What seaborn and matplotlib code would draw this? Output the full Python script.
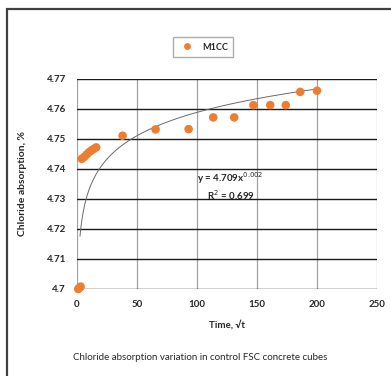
import numpy as np
import matplotlib
matplotlib.use("Agg")
import matplotlib.pyplot as plt
import seaborn as sns
import pandas as pd
from matplotlib.patches import Rectangle

# Data
time_sqrt = [1, 2, 3, 4, 6, 8, 10, 12, 14, 16, 38, 65.5, 93, 113.5, 131, 147, 161, 174, 186, 200]
chloride = [4.7000, 4.7004, 4.7008, 4.7434, 4.7440, 4.7448, 4.7456, 4.7462, 4.7467, 4.7472,
            4.7511, 4.7532, 4.7533, 4.7572, 4.7572, 4.7613, 4.7613, 4.7613, 4.7657, 4.7661]
series_name = "M1CC"
x_ticks = [0, 50, 100, 150, 200, 250]
y_ticks = [4.70, 4.71, 4.72, 4.73, 4.74, 4.75, 4.76, 4.77]
y_tick_labels = ["4.7", "4.71", "4.72", "4.73", "4.74", "4.75", "4.76", "4.77"]
eq_line1 = "y = 4.709x$^{0.002}$"
eq_line2 = "R$^2$ = 0.699"
trend_a = 4.7074
trend_b = 0.002362
trend_start = 2.5

df = pd.DataFrame({"t": time_sqrt, "c": chloride, "s": series_name})

sns.set_theme(style="white")
plt.rcParams["font.family"] = ["Lato", "DejaVu Sans"]

fig = plt.figure(figsize=(3.91, 3.76), dpi=100)
ax = fig.add_axes([77/391, 1-289/376, 300/391, 210/376])
ax.set_facecolor("white")

# outer frame
fig.patches.append(Rectangle((7/391, -0.2), 1.2, 1-9/376+0.2, transform=fig.transFigure,
                             fill=False, edgecolor="#404040", linewidth=1.6, zorder=0))

# gridlines
for xv in x_ticks:
    ax.axvline(xv, color="#a0a0a0", lw=0.9, zorder=1)
for yv in y_ticks:
    ax.axhline(yv, color="#1a1a1a", lw=1.0, zorder=1)

# trendline
xt = np.linspace(trend_start, max(time_sqrt), 300)
ax.plot(xt, trend_a * xt ** trend_b, color="#6a6a6a", lw=0.7, zorder=2)

sns.scatterplot(data=df, x="t", y="c", hue="s", palette=["#ED7D31"], s=38,
                edgecolor="none", ax=ax, zorder=3, clip_on=False)

ax.set_xlim(0, 250)
ax.set_ylim(4.70, 4.77)
ax.set_xticks(x_ticks)
ax.set_xticklabels([str(v) for v in x_ticks], fontsize=7, fontweight="bold")
ax.set_yticks(y_ticks)
ax.set_yticklabels(y_tick_labels, fontsize=7, fontweight="bold")
ax.tick_params(length=0, pad=8)
for sp in ax.spines.values():
    sp.set_visible(False)
ax.set_xlabel("Time, √t", fontsize=7, fontweight="bold", labelpad=8)
ax.set_ylabel("Chloride absorption, %", fontsize=7.5, fontweight="bold", labelpad=14)

ax.text(197/391, 1-178/376, eq_line1, transform=fig.transFigure, fontsize=7, fontweight="bold",
        ha="left", va="center", zorder=4)
ax.text(207/391, 1-195/376, eq_line2, transform=fig.transFigure, fontsize=7, fontweight="bold",
        ha="left", va="center", zorder=4)

leg = ax.legend(loc="center", bbox_to_anchor=(203/391, 1-47/376), bbox_transform=fig.transFigure,
                fontsize=6.5, frameon=True, fancybox=False, edgecolor="#999999",
                handletextpad=0.6, borderpad=0.6, markerscale=0.8)
for t in leg.get_texts():
    t.set_fontweight("bold")

fig.text(200/391, 1-357/376, "Chloride absorption variation in control FSC concrete cubes",
         fontsize=7, ha="center", va="center")

fig.savefig("out.png", dpi=100)
